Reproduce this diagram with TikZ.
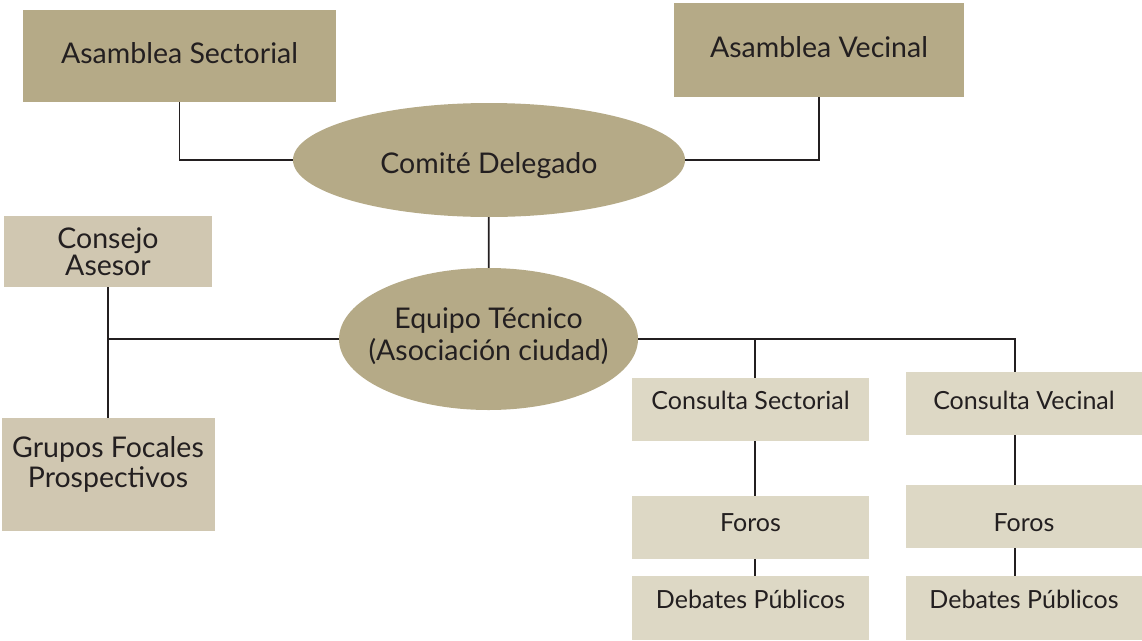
\documentclass[tikz,border=0pt]{standalone}
\usepackage{fontspec}
\setmainfont{Lato}
\usepackage{tikz}
\usetikzlibrary{shapes.geometric}

\definecolor{tanoscuro}{RGB}{181,170,135}
\definecolor{tanmedio}{RGB}{208,199,177}
\definecolor{tanclaro}{RGB}{221,216,197}
\definecolor{tinta}{RGB}{35,31,32}

\begin{document}
\begin{tikzpicture}[x=1pt, y=-1pt,
    font=\fontsize{25}{30}\selectfont, text=tinta,
    caja/.style={rectangle, inner sep=0pt, align=center},
    grande/.style={font=\fontsize{28.5}{#1}\selectfont},
    grande/.default=34,
    elipse/.style={ellipse, fill=tanoscuro, inner xsep=-20pt, inner ysep=0pt, align=center},
    enlace/.style={draw=tinta, line width=1.8pt}]
        \useasboundingbox (0,0) rectangle (1142,640);

        % Nodos
        \node[caja, grande, fill=tanoscuro, minimum width=313, minimum height=92, text height=20pt, text depth=6pt] (asec) at (179.5,56) {Asamblea Sectorial};
        \node[caja, grande, fill=tanoscuro, minimum width=290, minimum height=94, text height=20pt, text depth=6pt] (avec) at (819,50) {Asamblea Vecinal};
        \node[elipse, grande, minimum width=392, minimum height=114, text height=26pt, text depth=0pt] (comite) at (489,160) {Comité Delegado};
        \node[elipse, grande=32, minimum width=299, minimum height=142, text height=52pt, text depth=10pt] (equipo) at (488.5,339) {Equipo Técnico\\(Asociación ciudad)};
        \node[caja, grande=23, fill=tanmedio, minimum width=208, minimum height=71, text height=52pt, text depth=5pt] (consejo) at (108,251.5) {Consejo\\Asesor};
        \node[caja, grande=30, fill=tanmedio, minimum width=213, minimum height=113, text height=45pt, text depth=20pt] (grupos) at (108,474.5) {Grupos Focales\\Prospectivos};
        \node[caja, fill=tanclaro, minimum width=237, minimum height=63, text height=19pt, text depth=20pt] (csec) at (750.5,409.5) {Consulta Sectorial};
        \node[caja, fill=tanclaro, minimum width=237, minimum height=63, text height=19pt, text depth=11pt] (fsec) at (750.5,527.5) {Foros};
        \node[caja, fill=tanclaro, minimum width=237, minimum height=64, text height=19pt, text depth=19pt] (dsec) at (750.5,608) {Debates Públicos};
        \node[caja, fill=tanclaro, minimum width=236, minimum height=63, text height=19pt, text depth=8pt] (cvec) at (1024,403.5) {Consulta Vecinal};
        \node[caja, fill=tanclaro, minimum width=236, minimum height=63, text height=30pt, text depth=0pt] (fvec) at (1024,516.5) {Foros};
        \node[caja, fill=tanclaro, minimum width=236, minimum height=64, text height=19pt, text depth=19pt] (dvec) at (1024,608) {Debates Públicos};

        % Puntos de cruce
        \coordinate (js) at (755,339);
        \coordinate (jv) at (1015,339);

        % Conexiones
        \draw[enlace] (asec) |- (comite);
        \draw[enlace] (avec) |- (comite);
        \draw[enlace] (comite) -- (equipo);
        \draw[enlace] (equipo) -- (equipo -| consejo);
        \draw[enlace] (consejo) -- (grupos);
        \draw[enlace] (equipo) -- (jv) -- (jv |- cvec.north);
        \draw[enlace] (js) -- (js |- csec.north);
        \draw[enlace] (js |- csec.south) -- (js |- fsec.north);
        \draw[enlace] (js |- fsec.south) -- (js |- dsec.north);
        \draw[enlace] (jv |- cvec.south) -- (jv |- fvec.north);
        \draw[enlace] (jv |- fvec.south) -- (jv |- dvec.north);

\end{tikzpicture}
\end{document}
